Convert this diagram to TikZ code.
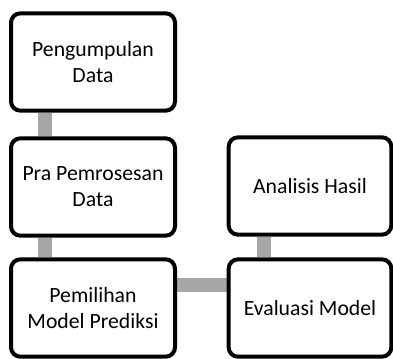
\documentclass[tikz,border=0pt]{standalone}
\usepackage{fontspec}
\setmainfont{Carlito}
\usetikzlibrary{backgrounds}
\definecolor{conn}{HTML}{A6A6A6}
\begin{document}
\begin{tikzpicture}[x=0.75pt,y=-0.75pt,
  stepbox/.style={draw=black, line width=3pt, rounded corners=7pt, fill=white,
    minimum width=123pt, minimum height=73pt, align=center, font=\fontsize{16.3}{19.5}\selectfont, inner sep=2pt},
  link/.style={draw=conn, line width=10.5pt}]
\useasboundingbox (0,0) rectangle (393,358);
\node[stepbox] (a) at (93,62) {Pengumpulan\\Data};
\node[stepbox] (b) at (93,187) {Pra Pemrosesan\\Data};
\node[stepbox] (c) at (93,308) {Pemilihan\\Model Prediksi};
\node[stepbox, minimum width=122pt] (e) at (310,308) {Evaluasi Model};
\node[stepbox, minimum width=122pt] (f) at (310,186) {Analisis Hasil};
\begin{scope}[on background layer]
\path[link] (a.south -| 45,0) -- (b.north -| 45,0);
\path[link] (b.south -| 45,0) -- (c.north -| 45,0);
\path[link] (c.east |- 0,285) -- (e.west |- 0,285);
\path[link] (f.south -| 264,0) -- (e.north -| 264,0);
\end{scope}
\end{tikzpicture}
\end{document}
